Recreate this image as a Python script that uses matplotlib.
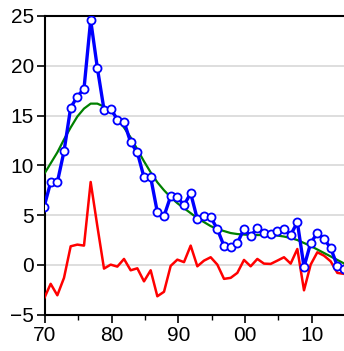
import numpy as np
import matplotlib
matplotlib.use("Agg")
import matplotlib.pyplot as plt
from matplotlib.ticker import MultipleLocator, FuncFormatter

# annual series, one value per year (1969 .. 2014)
years = np.arange(1969, 2015)

actual = [5.8, 8.3, 8.3, 11.4, 15.8, 16.9, 17.7, 24.6, 19.8, 15.6,
          15.7, 14.6, 14.4, 12.3, 11.3, 8.8, 8.8, 5.3, 4.9, 6.9,
          6.8, 6.0, 7.2, 4.6, 4.9, 4.8, 3.6, 1.9, 1.8, 2.2,
          3.6, 2.9, 3.7, 3.2, 3.1, 3.4, 3.6, 3.0, 4.3, -0.2,
          2.2, 3.2, 2.6, 1.7, -0.1, -0.4]

trend = [9.1, 10.2, 11.3, 12.6, 13.8, 14.9, 15.7, 16.2, 16.2, 15.9,
         15.5, 14.7, 13.8, 12.8, 11.6, 10.4, 9.3, 8.3, 7.5, 6.8,
         6.2, 5.7, 5.2, 4.7, 4.3, 3.9, 3.6, 3.4, 3.2, 3.1,
         3.05, 3.0, 3.0, 3.0, 3.0, 2.95, 2.85, 2.7, 2.5, 2.2,
         1.9, 1.55, 1.2, 0.85, 0.5, 0.15]

cycle = [-3.4, -1.9, -3.05, -1.3, 1.87, 2.04, 1.94, 8.33, 3.9, -0.37,
         0.03, -0.17, 0.6, -0.54, -0.34, -1.65, -0.54, -3.15, -2.7, -0.1,
         0.53, 0.28, 1.94, -0.14, 0.43, 0.77, 0.03, -1.4, -1.3, -0.8,
         0.5, -0.14, 0.6, 0.13, 0.1, 0.43, 0.77, 0.13, 1.6, -2.55,
         0.03, 1.27, 0.93, 0.36, -0.8, -0.9]

# points sit near the end of each year
x = years + 0.85

plt.rcParams['font.family'] = ['Liberation Sans', 'DejaVu Sans']

fig = plt.figure(figsize=(3.44, 3.51), dpi=100)
ax = fig.add_axes([45 / 344, 1 - 314.7 / 351, 300 / 344, 298.7 / 351])

ax.plot(x, cycle, color="red", lw=1.8, zorder=3)
ax.plot(x, trend, color="#008000", lw=1.6, zorder=4)
ax.plot(x, actual, color="blue", lw=2.4, marker="o", ms=5.8,
        mfc="white", mec="blue", mew=1.3, zorder=5)

ax.set_xlim(1970, 2015)
ax.set_ylim(-5, 25)
ax.yaxis.set_major_locator(MultipleLocator(5))
ax.xaxis.set_major_locator(MultipleLocator(10))
ax.xaxis.set_minor_locator(MultipleLocator(5))
ax.xaxis.set_major_formatter(FuncFormatter(lambda v, p: "%02d" % (int(round(v)) % 100)))

ax.grid(axis="y", color="#d4d4d4", lw=1.1)
ax.set_axisbelow(True)

ax.spines["right"].set_visible(False)
for s in ["left", "bottom", "top"]:
    ax.spines[s].set_color("black")
    ax.spines[s].set_linewidth(1.5)

ax.tick_params(axis="both", which="major", length=6, width=1.2,
               labelsize=15, color="black", pad=2)
ax.tick_params(axis="x", which="minor", length=3.5, width=1.0)

fig.savefig("out.png", dpi=100)
